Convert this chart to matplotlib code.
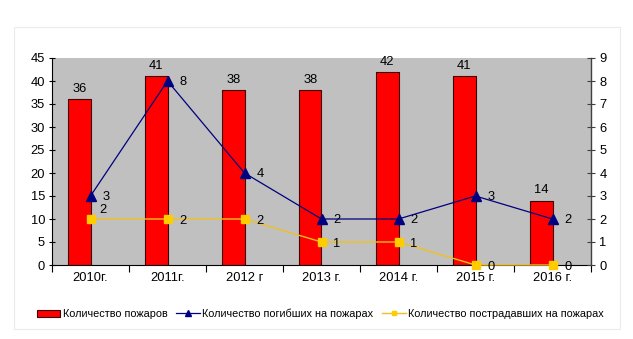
import numpy as np
import matplotlib
matplotlib.use("Agg")
import matplotlib.pyplot as plt
from matplotlib.lines import Line2D
from matplotlib.patches import Patch, Rectangle

plt.rcParams['font.family'] = ['Liberation Sans', 'DejaVu Sans']

years = ["2010г.", "2011г.", "2012 г", "2013 г.", "2014 г.", "2015 г.", "2016 г."]
fires = [36, 41, 38, 38, 42, 41, 14]
deaths = [3, 8, 4, 2, 2, 3, 2]
injured = [2, 2, 2, 1, 1, 0, 0]

fs = 9.3

fig = plt.figure(figsize=(6.33, 3.39), dpi=100)
fig.patch.set_facecolor("white")

# faint outer chart frame
fig.add_artist(Rectangle((14 / 633, 1 - 329 / 339), (620 - 14) / 633, (329 - 27) / 339,
                         transform=fig.transFigure, fill=False, edgecolor="#ebebeb", lw=0.8))

ax = fig.add_axes([52 / 633, 1 - 265 / 339, (591 - 52) / 633, (265 - 58) / 339])
ax.set_facecolor("#c0c0c0")
x = np.arange(len(years))
bw = 0.29
ax.bar(x - bw / 2, fires, width=bw, color="#ff0000", edgecolor="#400000", linewidth=0.8, zorder=2)
for xi, v in zip(x, fires):
    ax.text(xi - bw / 2, v + 0.9, str(v), ha="center", va="bottom", fontsize=fs, color="black")

ax.set_xlim(-0.5, len(years) - 0.5)
ax.set_ylim(0, 45)
ax.set_yticks(range(0, 46, 5))
ax.set_xticks(np.arange(-0.5, len(years), 1.0))
ax.set_xticklabels([])
ax.set_xticks(x, minor=True)
ax.set_xticklabels(years, minor=True, fontsize=fs)
ax.tick_params(axis="x", which="minor", length=0, pad=5)
ax.tick_params(axis="x", which="major", length=5, direction="out", width=0.8)
ax.tick_params(axis="y", length=4, direction="inout", width=0.8, labelsize=fs, pad=3)
ax.spines["top"].set_visible(False)
ax.spines["right"].set_visible(False)
ax.spines["left"].set_color("black")
ax.spines["bottom"].set_color("black")

ax2 = ax.twinx()
ax2.set_ylim(0, 9)
ax2.set_yticks(range(0, 10))
ax2.tick_params(axis="y", length=6, direction="inout", width=0.8, labelsize=fs, pad=3, color="#404040")
ax2.spines["right"].set_color("#404040")
ax2.spines["right"].set_linewidth(1.0)
for s in ["top", "left", "bottom"]:
    ax2.spines[s].set_visible(False)

ax2.plot(x, injured, color="#f0c020", lw=1.0, marker="s", ms=6, mfc="#ffcc00", mec="#ffcc00",
         zorder=3, clip_on=False)
ax2.plot(x, deaths, color="#000080", lw=0.9, marker="^", ms=6.5, mfc="#000080", mec="#000080",
         zorder=4, clip_on=False)

dx = 0.2
for xi, v in zip(x, deaths):
    ax2.text(xi + dx, v - 0.03, str(v), ha="center", va="center", fontsize=fs)
for i, (xi, v) in enumerate(zip(x, injured)):
    if i == 0:
        ax2.text(xi + 0.16, v + 0.4, str(v), ha="center", va="center", fontsize=fs)
    else:
        ax2.text(xi + dx, v - 0.1, str(v), ha="center", va="center", fontsize=fs)

handles = [
    Patch(facecolor="#ff0000", edgecolor="#400000", linewidth=0.8),
    Line2D([0], [0], color="#000080", lw=0.9, marker="^", ms=4, mfc="#000080"),
    Line2D([0], [0], color="#f0c020", lw=1.0, marker="s", ms=3.5, mfc="#ffcc00", mec="#ffcc00"),
]
labels = ["Количество пожаров", "Количество погибших на пожарах", "Количество пострадавших на пожарах"]
fig.legend(handles, labels, loc="center", bbox_to_anchor=(320 / 633, 1 - 314 / 339), ncol=3,
           frameon=False, fontsize=7.8, handlelength=2.2, handleheight=0.7, handletextpad=0.2,
           columnspacing=0.8)

fig.savefig("out.png", dpi=100)
